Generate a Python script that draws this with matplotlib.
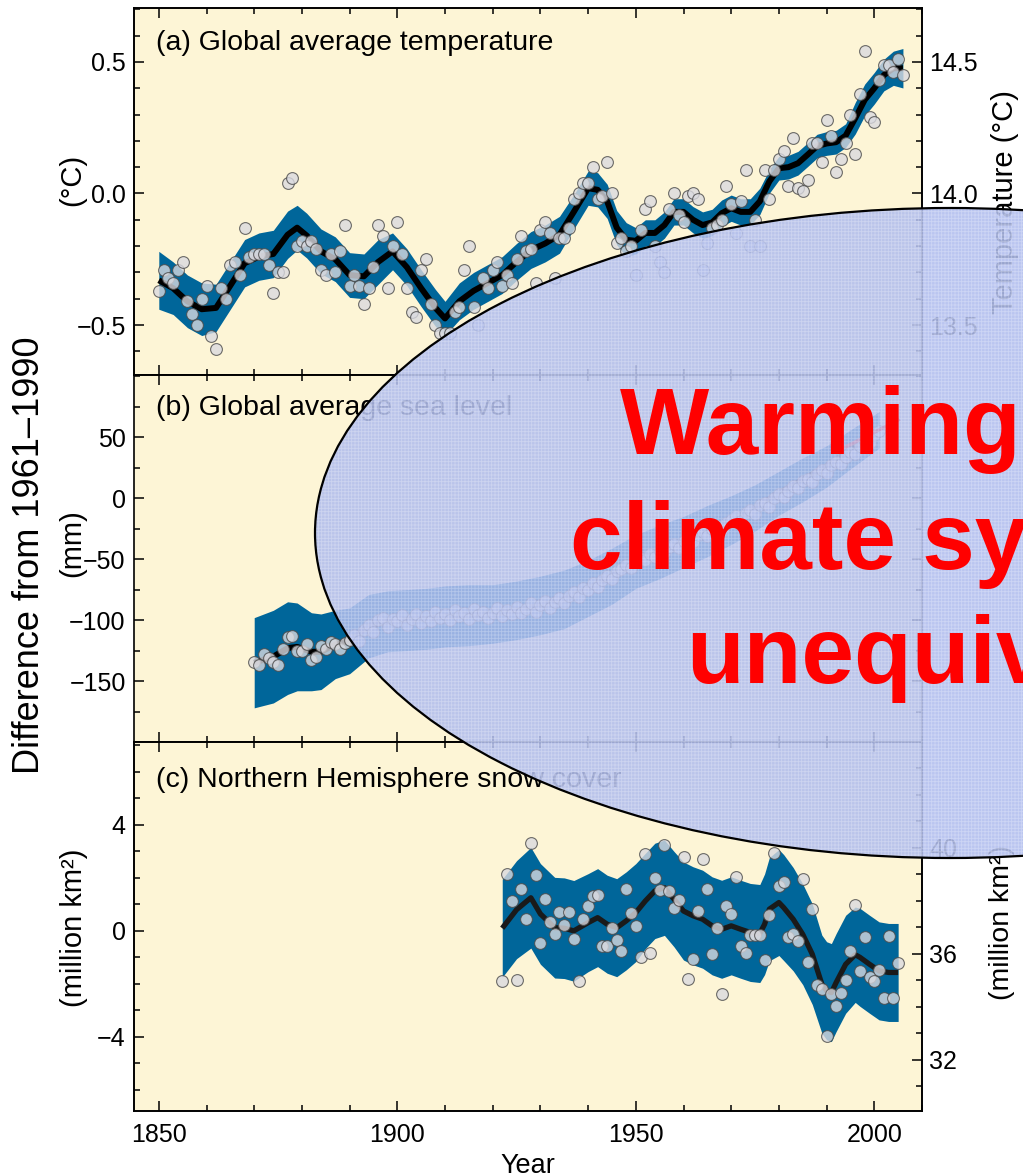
import numpy as np
import matplotlib.pyplot as plt
from matplotlib.patches import Ellipse
from matplotlib.ticker import MultipleLocator
from matplotlib.colors import to_rgba

plt.rcParams['font.family'] = ['Liberation Sans', 'DejaVu Sans']
plt.rcParams['hatch.linewidth'] = 0.6

CREAM = "#fdf5d6"
BAND = "#00669a"
PT_FACE = "#dadae0"
PT_EDGE = "#4a4a4a"

# ---- (a) global average temperature, anomaly in degC ----
temp_years = list(range(1850, 2007))
temp_vals = [
    -0.37, -0.29, -0.32, -0.34, -0.29, -0.26, -0.41, -0.46, -0.50, -0.40,
    -0.35, -0.54, -0.59, -0.36, -0.40, -0.27, -0.26, -0.31, -0.13, -0.24,
    -0.23, -0.23, -0.23, -0.27, -0.38, -0.30, -0.30, 0.04, 0.06, -0.20,
    -0.18, -0.20, -0.18, -0.21, -0.29, -0.31, -0.23, -0.30, -0.22, -0.12,
    -0.35, -0.31, -0.35, -0.42, -0.36, -0.28, -0.12, -0.16, -0.36, -0.20,
    -0.11, -0.23, -0.36, -0.45, -0.47, -0.29, -0.25, -0.42, -0.50, -0.53,
    -0.53, -0.53, -0.45, -0.43, -0.29, -0.20, -0.43, -0.50, -0.32, -0.36,
    -0.29, -0.26, -0.35, -0.31, -0.34, -0.25, -0.16, -0.22, -0.21, -0.34,
    -0.14, -0.11, -0.15, -0.32, -0.17, -0.17, -0.13, -0.02, 0.00, 0.04,
    0.04, 0.10, -0.02, -0.01, 0.12, 0.00, -0.19, -0.17, -0.22, -0.20,
    -0.31, -0.14, -0.06, -0.03, -0.20, -0.26, -0.30, -0.06, 0.00, -0.08,
    -0.11, -0.01, 0.00, -0.02, -0.29, -0.19, -0.13, -0.12, -0.10, 0.03,
    -0.04, -0.15, -0.03, 0.09, -0.20, -0.10, -0.20, 0.09, -0.02, 0.09,
    0.13, 0.16, 0.03, 0.21, 0.02, 0.01, 0.05, 0.19, 0.19, 0.12,
    0.28, 0.22, 0.08, 0.13, 0.19, 0.30, 0.15, 0.38, 0.54, 0.29,
    0.27, 0.43, 0.49, 0.49, 0.46, 0.51, 0.45,
]
temp_sm_years = [1850, 1853, 1856, 1859, 1862, 1865, 1868, 1871, 1874, 1877,
                 1879, 1881, 1884, 1887, 1890, 1893, 1896, 1899, 1902, 1905,
                 1908, 1910, 1913, 1916, 1919, 1922, 1925, 1928, 1931, 1934,
                 1937, 1940, 1942, 1944, 1946, 1948, 1950, 1952, 1954, 1956,
                 1958, 1960, 1962, 1964, 1966, 1968, 1970, 1972, 1974, 1976,
                 1978, 1980, 1982, 1984, 1986, 1988, 1990, 1992, 1994, 1996,
                 1998, 2000, 2002, 2004, 2006]
temp_sm = [-0.33, -0.36, -0.41, -0.44, -0.435, -0.35, -0.265, -0.24, -0.23, -0.157,
           -0.13, -0.16, -0.22, -0.25, -0.31, -0.315, -0.26, -0.22, -0.28, -0.36,
           -0.435, -0.475, -0.41, -0.37, -0.34, -0.31, -0.26, -0.215, -0.19, -0.157,
           -0.07, 0.02, 0.014, -0.03, -0.13, -0.176, -0.18, -0.15, -0.15, -0.12,
           -0.07, -0.07, -0.10, -0.12, -0.11, -0.075, -0.056, -0.07, -0.07, -0.03,
           0.046, 0.096, 0.10, 0.115, 0.147, 0.18, 0.19, 0.195, 0.22, 0.286,
           0.356, 0.40, 0.45, 0.476, 0.476]
temp_unc = [0.11, 0.10, 0.10, 0.10, 0.09, 0.09, 0.09, 0.09, 0.09, 0.09,
            0.085, 0.085, 0.085, 0.085, 0.085, 0.085, 0.085, 0.07, 0.07, 0.07,
            0.07, 0.065, 0.07, 0.07, 0.07, 0.07, 0.07, 0.07, 0.07, 0.07,
            0.065, 0.065, 0.065, 0.065, 0.065, 0.065, 0.05, 0.05, 0.05, 0.05,
            0.05, 0.05, 0.05, 0.05, 0.05, 0.05, 0.05, 0.05, 0.05, 0.05,
            0.045, 0.045, 0.045, 0.045, 0.045, 0.045, 0.045, 0.045, 0.045, 0.06,
            0.06, 0.06, 0.06, 0.065, 0.075]

# ---- (b) global average sea level, mm ----
sea_years = list(range(1870, 2002))
sea_vals = [
    -134, -137, -128, -131, -134, -137, -124, -114, -113, -125,
    -125, -120, -133, -130, -121, -124, -118, -120, -124, -119,
    -116, -112, -117, -108, -104, -110, -100, -98, -106, -99,
    -101, -96, -104, -99, -95, -102, -97, -101, -93, -98,
    -95, -100, -92, -97, -94, -99, -91, -96, -93, -98,
    -94, -90, -97, -92, -95, -89, -94, -91, -86, -93,
    -88, -84, -90, -85, -82, -86, -80, -77, -81, -74,
    -75, -70, -73, -67, -64, -66, -60, -58, -55, -57,
    -52, -49, -51, -46, -48, -43, -45, -40, -38, -41,
    -35, -33, -36, -30, -28, -31, -25, -23, -26, -20,
    -18, -15, -19, -12, -10, -13, -6, -4, -7, 0,
    3, 1, 6, 10, 8, 14, 16, 13, 20, 23,
    21, 27, 30, 28, 34, 38, 36, 43, 47, 45,
    52, 55,
]
sea_sm_years = [1870, 1874, 1877, 1879, 1882, 1884, 1887, 1890, 1894, 1898,
                1902, 1906, 1910, 1915, 1920, 1925, 1930, 1935, 1940, 1945,
                1950, 1955, 1960, 1965, 1970, 1975, 1980, 1985, 1990, 1995, 2001]
sea_sm = [-135, -130, -123, -122, -126, -126, -120, -117, -105, -101,
          -100, -99, -97, -96, -95, -92, -88, -83, -74, -64,
          -52, -44, -36, -27, -18, -8, 4, 15, 26, 40, 56]
sea_unc = [37, 38, 38, 36, 32, 31, 28, 27, 26, 25,
           25, 25, 25, 25, 24, 24, 24, 24, 23, 23,
           22, 22, 21, 21, 20, 19, 18, 18, 17, 16, 15]
sat_years = [1993, 1995, 1997, 1999, 2001, 2003, 2005]
sat_vals = [40, 44, 48, 52, 56, 60, 64]

# ---- (c) NH snow cover, million km2 ----
snow_years = list(range(1922, 2006))
snow_vals = [
    -1.91, 2.16, 1.13, -1.86, 1.57, 0.46, 3.30, 2.10,
    -0.46, 1.20, 0.34, -0.12, 0.73, 0.21, 0.73, -0.31, -1.91, 0.44,
    0.94, 1.32, 1.35, -0.57, -0.57, 0.12, -0.34, -0.75, 1.57, 0.67,
    0.19, -1.00, 2.89, -0.82, 1.99, 1.55, 3.23, 1.51, 0.88, 1.16,
    2.77, -1.82, -1.07, 0.75, 2.73, 1.57, -0.86, 0.12, -2.39, 0.94,
    0.65, 2.04, -0.57, -0.84, -0.15, -0.15, -0.15, -1.10, 0.59, 2.93,
    1.70, 1.86, -0.25, -0.13, -0.38, 1.95, -1.16, 0.82, -2.04, -2.20,
    -3.96, -2.37, -2.83, -2.33, -1.86, -0.75, 0.98, -1.51, -0.25, -1.76,
    -1.91, -1.47, -2.54, -0.19, -2.54, -1.23,
]
snow_sm_years = [1922, 1925, 1928, 1930, 1933, 1935, 1937, 1940, 1942, 1944,
                 1946, 1948, 1950, 1952, 1954, 1956, 1958, 1960, 1962, 1964,
                 1966, 1968, 1970, 1972, 1974, 1976, 1977, 1978, 1980, 1981,
                 1983, 1985, 1987, 1989, 1990, 1991, 1992, 1994, 1996, 1997,
                 1999, 2001, 2003, 2005]
snow_sm = [0.10, 0.80, 1.25, 0.64, 0.12, 0.10, 0.00, 0.31, 0.50, 0.25,
           0.12, 0.38, 0.69, 1.13, 1.51, 1.63, 1.20, 0.75, 0.57, 0.44,
           0.19, 0.06, 0.19, 0.06, -0.06, -0.10, 0.25, 0.82, 1.07, 0.88,
           0.44, -0.13, -0.88, -2.01, -2.26, -2.33, -1.95, -1.26, -0.90, -1.00,
           -1.26, -1.51, -1.57, -1.57]
snow_unc = [1.85, 1.85, 1.9, 1.9, 1.9, 1.9, 1.9, 1.85, 1.85, 1.85,
            1.85, 1.85, 1.85, 1.8, 1.8, 1.8, 1.8, 1.85, 1.85, 1.85,
            1.85, 1.85, 1.85, 1.85, 1.85, 1.85, 1.9, 1.95, 2.0, 2.0,
            1.95, 1.9, 1.9, 1.85, 1.85, 1.85, 1.85, 1.85, 1.8, 1.85,
            1.85, 1.85, 1.85, 1.85]

W, H = 1023, 1173
fig = plt.figure(figsize=(W / 100, H / 100), dpi=100)


def px_rect(l, t, r, b):
    return [l / W, 1 - b / H, (r - l) / W, (b - t) / H]


def fx(x):
    return x / W


def fy(y):
    return 1 - y / H


ax_a = fig.add_axes(px_rect(134, 8, 922, 375))
ax_b = fig.add_axes(px_rect(134, 375, 922, 742))
ax_c = fig.add_axes(px_rect(134, 742, 922, 1111))


def draw_series(ax, years, vals, sm_years, sm, unc, lw=4.3, lc="black"):
    sm = np.array(sm)
    unc = np.array(unc)
    ax.fill_between(sm_years, sm - unc, sm + unc, color=BAND, lw=0, zorder=2)
    ax.plot(sm_years, sm, color=lc, lw=lw, solid_joinstyle="round",
            solid_capstyle="butt", zorder=3)
    ax.scatter(years, vals, s=72, c=PT_FACE, edgecolors=PT_EDGE,
               linewidths=0.8, alpha=0.8, zorder=4)


def style(ax, ylim, major, minor):
    ax.set_facecolor(CREAM)
    ax.set_xlim(1844.8, 2010)
    ax.set_ylim(*ylim)
    for s in ax.spines.values():
        s.set_linewidth(1.2)
    ax.xaxis.set_major_locator(MultipleLocator(50))
    ax.xaxis.set_minor_locator(MultipleLocator(10))
    ax.yaxis.set_major_locator(MultipleLocator(major))
    ax.yaxis.set_minor_locator(MultipleLocator(minor))
    ax.tick_params(which="both", direction="in", top=True, width=1.1,
                   labelsize=18)
    ax.tick_params(which="major", length=7)
    ax.tick_params(which="minor", length=4)
    ax.tick_params(axis="y", pad=6)
    ax.tick_params(axis="x", pad=9)


draw_series(ax_a, temp_years, temp_vals, temp_sm_years, temp_sm, temp_unc)
style(ax_a, (-0.69, 0.705), 0.5, 0.1)
ax_a.set_yticks([-0.5, 0.0, 0.5])
ax_a.tick_params(labelbottom=False)
ax_a.text(0.028, 0.905, "(a) Global average temperature", transform=ax_a.transAxes,
          fontsize=20.5, va="center", zorder=6)

draw_series(ax_b, sea_years, sea_vals, sea_sm_years, sea_sm, sea_unc)
ax_b.plot(sat_years, sat_vals, color="red", lw=2.5, zorder=5)
style(ax_b, (-200, 101), 50, 25)
ax_b.set_yticks([-150, -100, -50, 0, 50])
ax_b.tick_params(labelbottom=False, right=True, which="both")
ax_b.text(0.028, 0.91, "(b) Global average sea level", transform=ax_b.transAxes,
          fontsize=20.5, va="center", zorder=6)

draw_series(ax_c, snow_years, snow_vals, snow_sm_years, snow_sm, snow_unc,
            lw=3.8, lc="#1a1a1a")
style(ax_c, (-6.8, 7.13), 4, 1)
ax_c.set_yticks([-4, 0, 4])
ax_c.set_xticks([1850, 1900, 1950, 2000])
ax_c.text(0.028, 0.897, "(c) Northern Hemisphere snow cover", transform=ax_c.transAxes,
          fontsize=20.5, va="center", zorder=6)
ax_c.set_xlabel("Year", fontsize=19.5, labelpad=4)

# right-hand absolute scales
ax_a2 = ax_a.twinx()
ax_a2.set_ylim(ax_a.get_ylim()[0] + 14.0, ax_a.get_ylim()[1] + 14.0)
ax_a2.set_yticks([13.5, 14.0, 14.5])
ax_a2.yaxis.set_minor_locator(MultipleLocator(0.1))
ax_c2 = ax_c.twinx()
ax_c2.set_ylim(ax_c.get_ylim()[0] + 36.87, ax_c.get_ylim()[1] + 36.87)
ax_c2.set_yticks([32, 36, 40])
ax_c2.yaxis.set_minor_locator(MultipleLocator(1))
for ax2 in (ax_a2, ax_c2):
    for s in ax2.spines.values():
        s.set_linewidth(1.2)
    ax2.tick_params(which="both", direction="in", width=1.1, labelsize=18, pad=5)
    ax2.tick_params(which="major", length=7)
    ax2.tick_params(which="minor", length=4)

# axis titles
left_font = ["Liberation Sans Narrow", "Liberation Sans", "DejaVu Sans"]
fig.text(fx(30), fy(555), "Difference from 1961\u20131990", rotation=90,
         ha="center", va="center", fontsize=26, family=left_font)
fig.text(fx(72), fy(180), "(°C)", rotation=90, ha="center", va="center",
         fontsize=21, family=left_font)
fig.text(fx(72), fy(543), "(mm)", rotation=90, ha="center", va="center",
         fontsize=21, family=left_font)
fig.text(fx(74), fy(928), "(million km²)", rotation=90, ha="center", va="center",
         fontsize=21, family=left_font)
fig.text(fx(1005), fy(202), "Temperature (°C)", rotation=90, ha="center",
         va="center", fontsize=21, zorder=0.5)
fig.text(fx(1002), fy(923), "(million km²)", rotation=90, ha="center",
         va="center", fontsize=20.5, zorder=0.5)

# overlay ellipse with the headline: tinted fill, fine screen texture, outline
ell_c, ell_w, ell_h = (fx(950), fy(533)), 1270 / W, 650 / H
fig.add_artist(Ellipse(ell_c, ell_w, ell_h, transform=fig.transFigure,
                       facecolor=to_rgba("#b0bdee", 0.87), lw=0, zorder=1))
fig.add_artist(Ellipse(ell_c, ell_w, ell_h, transform=fig.transFigure,
                       facecolor="none", edgecolor=to_rgba("white", 0.28),
                       hatch="+++++", lw=0, zorder=1.1))
fig.add_artist(Ellipse(ell_c, ell_w, ell_h, transform=fig.transFigure,
                       facecolor="none", edgecolor="black", lw=1.6, zorder=1.2))

headline = ["Warming of the", "climate system is", "unequivocal"]
baselines = [454, 569, 683]
for line, yb in zip(headline, baselines):
    fig.text(fx(962), fy(yb), line, ha="center", va="baseline", fontsize=68,
             fontweight="bold", color="red", zorder=5)

fig.savefig("out.png", dpi=100)
